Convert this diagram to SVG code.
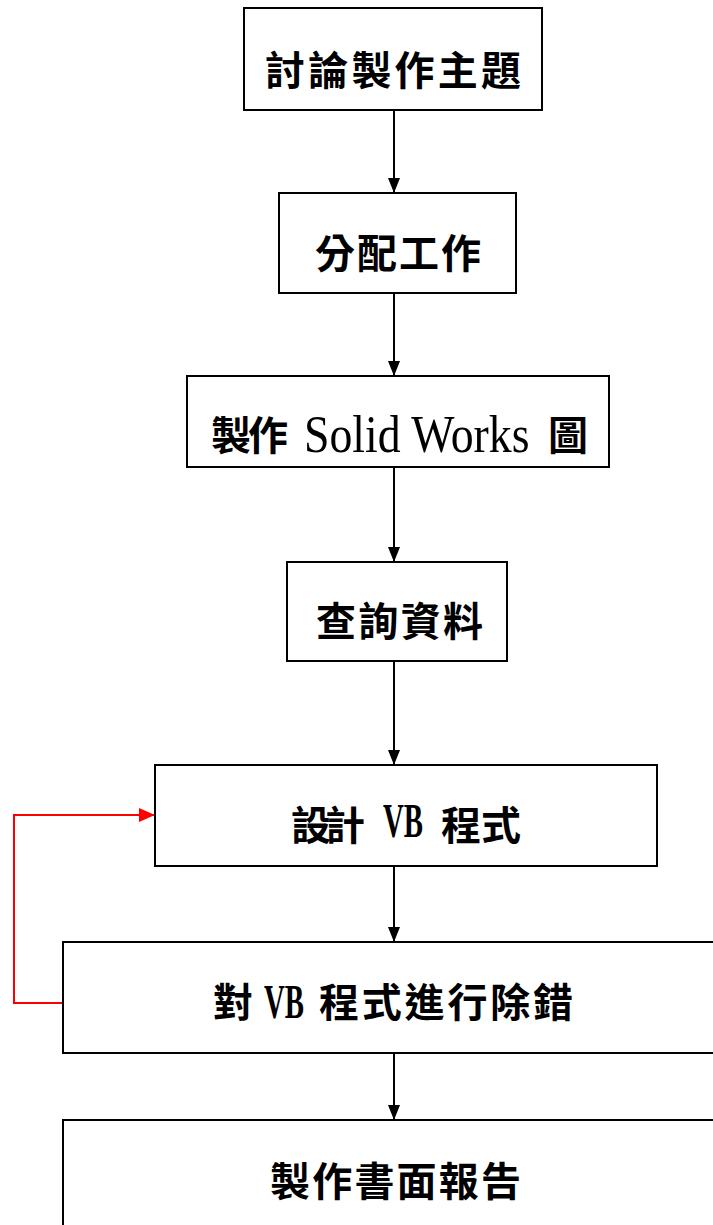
<svg xmlns="http://www.w3.org/2000/svg" width="713" height="1225" viewBox="0 0 713 1225">
<style>
.box{fill:#fff;stroke:#000;stroke-width:2}
.cjk{font-family:"Noto Sans CJK TC","Noto Sans CJK SC",sans-serif;font-size:40px;font-weight:bold;fill:#000}
.lat{font-family:"Liberation Serif",serif;font-size:52px;fill:#000}
.latb{font-family:"Liberation Serif",serif;font-size:48px;font-weight:bold;fill:#000}
.conn{fill:none;stroke:#000;stroke-width:2}
.back{fill:none;stroke:#f00;stroke-width:2}
</style>
<defs>
<marker id="ah" markerUnits="userSpaceOnUse" markerWidth="15" markerHeight="12" refX="15" refY="6" viewBox="0 0 15 12" orient="auto">
<path d="M0,0 L15,6 L0,12 Z" fill="#000"/>
</marker>
<marker id="ahr" markerUnits="userSpaceOnUse" markerWidth="16" markerHeight="14" refX="16" refY="7" viewBox="0 0 16 14" orient="auto">
<path d="M0,0 L16,7 L0,14 Z" fill="#f00"/>
</marker>
</defs>
<g id="connectors">
<line class="conn" x1="394" y1="110" x2="394" y2="193" marker-end="url(#ah)"/>
<line class="conn" x1="394" y1="293" x2="394" y2="376" marker-end="url(#ah)"/>
<line class="conn" x1="394" y1="467" x2="394" y2="562" marker-end="url(#ah)"/>
<line class="conn" x1="394" y1="661" x2="394" y2="765" marker-end="url(#ah)"/>
<line class="conn" x1="394" y1="866" x2="394" y2="942" marker-end="url(#ah)"/>
<line class="conn" x1="394" y1="1053" x2="394" y2="1120" marker-end="url(#ah)"/>
<polyline class="back" points="63,1003 14,1003 14,815 155,815" marker-end="url(#ahr)"/>
</g>
<g id="n1">
<rect class="box" x="244" y="8" width="298" height="102"/>
<text class="cjk" x="265" y="85" textLength="256" lengthAdjust="spacing">討論製作主題</text>
</g>
<g id="n2">
<rect class="box" x="279" y="193" width="237" height="100"/>
<text class="cjk" x="315" y="268" textLength="166" lengthAdjust="spacing">分配工作</text>
</g>
<g id="n3">
<rect class="box" x="187" y="376" width="422" height="91"/>
<text class="cjk" x="211" y="450" textLength="77" lengthAdjust="spacing">製作</text>
<text class="lat" transform="translate(304,452) scale(0.88,1)" x="0" y="0">Solid Works</text>
<text class="cjk" x="548" y="450">圖</text>
</g>
<g id="n4">
<rect class="box" x="287" y="562" width="220" height="99"/>
<text class="cjk" x="316" y="636" textLength="167" lengthAdjust="spacing">查詢資料</text>
</g>
<g id="n5">
<rect class="box" x="155" y="765" width="502" height="101"/>
<text class="cjk" x="291" y="840" textLength="74" lengthAdjust="spacing">設計</text>
<text class="latb" transform="translate(383,837) scale(0.6,1)" x="0" y="0">VB</text>
<text class="cjk" x="441" y="840" textLength="80" lengthAdjust="spacing">程式</text>
</g>
<g id="n6">
<rect class="box" x="63" y="942" width="660" height="111"/>
<text class="cjk" x="213" y="1017">對</text>
<text class="latb" transform="translate(264,1018) scale(0.6,1)" x="0" y="0">VB</text>
<text class="cjk" x="319" y="1017" textLength="254" lengthAdjust="spacing">程式進行除錯</text>
</g>
<g id="n7">
<rect class="box" x="63" y="1120" width="660" height="120"/>
<text class="cjk" x="270" y="1196" textLength="251" lengthAdjust="spacing">製作書面報告</text>
</g>
</svg>
